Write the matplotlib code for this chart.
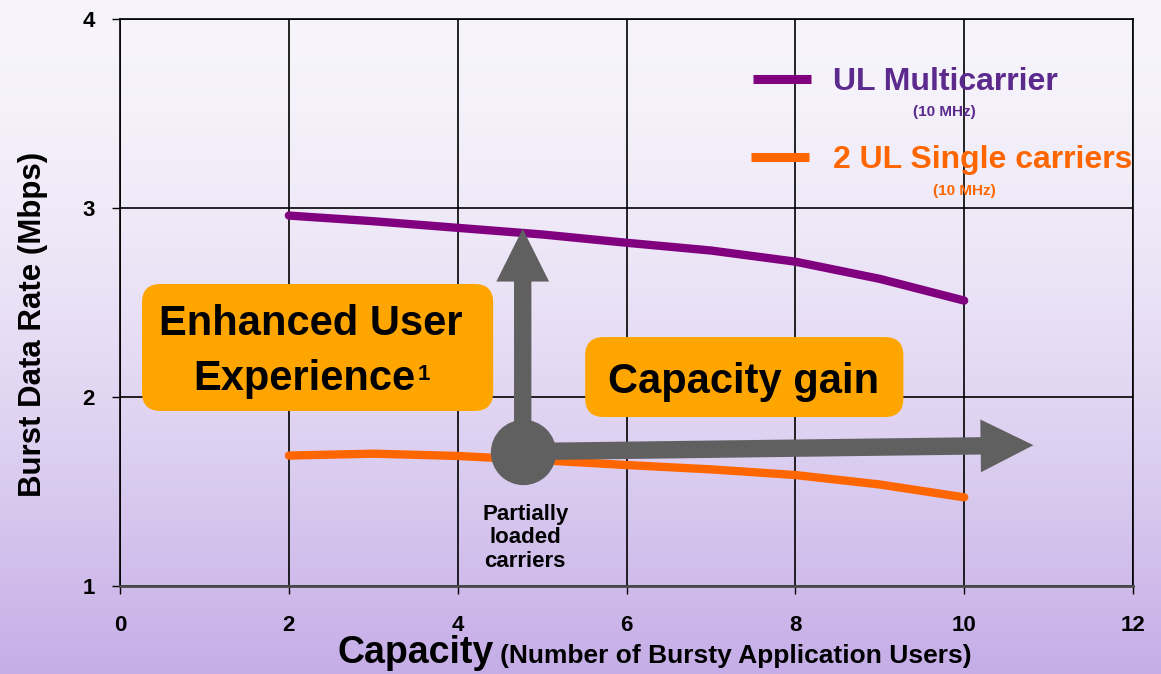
import numpy as np
import matplotlib
matplotlib.use('Agg')
import matplotlib.pyplot as plt
from matplotlib.patches import FancyBboxPatch

plt.rcParams['font.family'] = ['Liberation Sans', 'DejaVu Sans']
plt.rcParams['font.weight'] = 'bold'

# data
users = [2, 3, 4, 5, 6, 7, 8, 9, 10]
multicarrier = [2.96, 2.93, 2.895, 2.86, 2.816, 2.775, 2.716, 2.625, 2.51]
single_carriers = [1.69, 1.70, 1.688, 1.665, 1.64, 1.617, 1.587, 1.537, 1.469]
x_ticks = [0, 2, 4, 6, 8, 10, 12]
y_ticks = [1, 2, 3, 4]
op_point = (4.77, 1.711)      # "partially loaded carriers"
cap_tip = (10.82, 1.745)
rate_tip = (4.77, 2.89)

purple = '#800080'
purple_txt = '#5b2a8c'
orange = '#ff6600'
box_col = '#ffa500'
gray = '#606060'

fig = plt.figure(figsize=(11.61, 6.74), dpi=100)

# background gradient
bg = fig.add_axes([0, 0, 1, 1], zorder=-10)
t = np.linspace(0, 1, 256)[:, None] ** 1.6
top = np.array([247, 245, 251]) / 255
bot = np.array([197, 173, 231]) / 255
grad = top[None, None, :] * (1 - t[..., None]) + bot[None, None, :] * t[..., None]
grad = np.repeat(grad, 2, axis=1)
bg.imshow(grad, aspect='auto', extent=[0, 1, 0, 1])
bg.axis('off')

ax = fig.add_axes([0.1034, 0.1306, 0.8725, 0.8412])
ax.patch.set_alpha(0)
ax.set_xlim(0, 12)
ax.set_ylim(1, 4)
ax.set_xticks(x_ticks)
ax.set_yticks(y_ticks)
ax.grid(True, color='black', lw=1.2)
ax.set_axisbelow(True)
for s in ['left', 'right', 'top']:
    ax.spines[s].set_color('black')
    ax.spines[s].set_linewidth(1.2)
ax.spines['bottom'].set_color('#4a4a4a')
ax.spines['bottom'].set_linewidth(2)
ax.tick_params(axis='both', direction='out', length=6, width=1, color='black')
ax.tick_params(axis='y', pad=12, labelsize=16)
ax.tick_params(axis='x', pad=15, labelsize=16)
for lb in ax.get_xticklabels() + ax.get_yticklabels():
    lb.set_fontweight('bold')

ax.plot(users, multicarrier, color=purple, lw=6, solid_capstyle='round',
        solid_joinstyle='round', zorder=3)
ax.plot(users, single_carriers, color=orange, lw=6, solid_capstyle='round',
        solid_joinstyle='round', zorder=3)

# orange call-out boxes
asp = (12 / 1013) / (3 / 567)
ax.add_patch(FancyBboxPatch((0.26, 1.926), 4.16, 0.672,
                            boxstyle='round,pad=0,rounding_size=0.22',
                            mutation_aspect=1 / asp, fc=box_col, ec='none', zorder=4))
ax.add_patch(FancyBboxPatch((5.51, 1.894), 3.77, 0.423,
                            boxstyle='round,pad=0,rounding_size=0.22',
                            mutation_aspect=1 / asp, fc=box_col, ec='none', zorder=4))
ax.text(2.263, 2.328, 'Enhanced User', ha='center', va='baseline', fontsize=30, zorder=5)
ax.text(3.495, 2.037, 'Experience', ha='right', va='baseline', fontsize=30, zorder=5)
ax.text(3.53, 2.176, '1', ha='left', va='top', fontsize=16, zorder=5)
ax.text(7.39, 2.021, 'Capacity gain', ha='center', va='baseline', fontsize=30, zorder=5)

# arrows from the operating point
arrow = dict(arrowstyle='simple,head_length=3.8,head_width=3.8,tail_width=1.25',
             fc=gray, ec='none', shrinkA=0, shrinkB=0, mutation_scale=10)
ax.annotate('', xy=cap_tip, xytext=op_point, arrowprops=arrow, zorder=6)
ax.annotate('', xy=rate_tip, xytext=op_point, arrowprops=arrow, zorder=6)
ax.plot(*op_point, 'o', ms=47, color=gray, mec='none', zorder=7)
ax.text(4.8, 1.254, 'Partially\nloaded\ncarriers', ha='center', va='center',
        fontsize=16, linespacing=1.15, zorder=5)

# legend drawn by hand
ax.plot([0.625, 0.682], [0.895, 0.895], transform=ax.transAxes, color=purple, lw=6.5,
        solid_capstyle='butt', clip_on=False)
ax.plot([0.623, 0.680], [0.757, 0.757], transform=ax.transAxes, color=orange, lw=6.5,
        solid_capstyle='butt', clip_on=False)
ax.text(0.704, 0.875, 'UL Multicarrier', transform=ax.transAxes, color=purple_txt,
        fontsize=23, va='baseline', ha='left')
ax.text(0.814, 0.829, '(10 MHz)', transform=ax.transAxes, color=purple_txt,
        fontsize=11, va='baseline', ha='center')
ax.text(0.704, 0.737, '2 UL Single carriers', transform=ax.transAxes, color=orange,
        fontsize=23, va='baseline', ha='left')
ax.text(0.834, 0.690, '(10 MHz)', transform=ax.transAxes, color=orange,
        fontsize=11, va='baseline', ha='center')

# axis titles
fig.text(0.028, 0.519, 'Burst Data Rate (Mbps)', rotation=90, ha='center', va='center',
         fontsize=22.5)
fig.text(0.291, 0.016, 'Capacity', ha='left', va='baseline', fontsize=27)
fig.text(0.431, 0.016, '(Number of Bursty Application Users)', ha='left', va='baseline',
         fontsize=19)

fig.savefig('out.png', dpi=100)
